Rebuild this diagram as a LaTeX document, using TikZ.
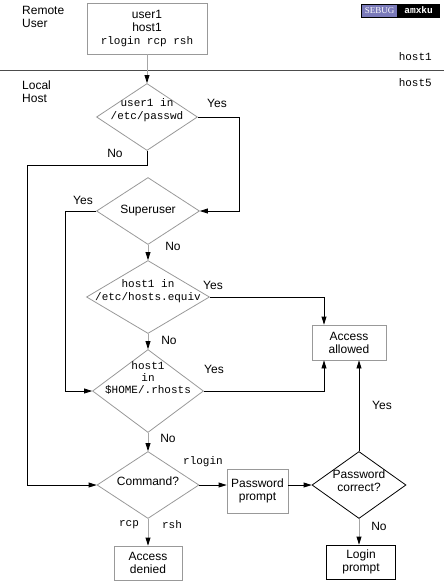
\documentclass[tikz,border=0pt]{standalone}
\usepackage{fontspec}
\setmainfont{Liberation Sans}
\setmonofont{Liberation Mono}
\newfontfamily\badgefont{Liberation Serif}
\usetikzlibrary{shapes.geometric,arrows.meta}
\definecolor{sebugblue}{RGB}{122,122,186}
\newcommand{\dtext}[2][-3pt]{\makebox[0pt]{\smash{\raisebox{#1}{\begin{tabular}{@{}c@{}}#2\end{tabular}}}}}

\begin{document}
\begin{tikzpicture}[x=1pt,y=-1pt,
  every node/.style={inner sep=0pt, font=\fontsize{12}{13}\selectfont},
  box/.style={draw=black!40, line width=0.8pt, align=center},
  decision/.style={diamond, draw=black!40, line width=0.8pt},
  lbl/.style={},
  code/.style={font=\fontsize{11}{13}\ttfamily},
  flow/.style={draw=black, line width=0.8pt, -{Triangle[length=8pt,width=5pt]}},
  gflow/.style={draw=black!35, line width=0.8pt, -{Triangle[length=8pt,width=5pt,color=black]}}]
\useasboundingbox (0,0) rectangle (444,584);
\draw [black!70, line width=0.8pt] (0,70) -- (444,70);
\node [anchor=west, align=left] (remoteuser) at (22,17) {Remote\\User};
\node [anchor=west, align=left] (localhost) at (22,92) {Local\\Host};
\node [code, anchor=east] (hostone) at (432,57) {host1};
\node [code, anchor=east] (hostfive) at (432,83) {host5};
\node [draw=black, line width=0.6pt, fill=sebugblue, text=white, minimum width=36, minimum height=13,
  font=\fontsize{9}{9}\badgefont] (sebug) at (379.5,10.5) {SEBUG};
\node [draw=black, line width=0.6pt, fill=black, text=white, minimum width=41, minimum height=13,
  font=\fontsize{9.5}{9.5}\ttfamily\bfseries, anchor=west] (amxku) at (sebug.east) {amxku};
\node [box, minimum width=120, minimum height=51] (remote) at (147,28.5) {user1\\host1\\\texttt{\fontsize{11}{13}\selectfont rlogin rcp rsh}};
\node [decision, code, minimum width=101, minimum height=67] (passwd) at (147,117)
  {\dtext[4pt]{user1 in\\/etc/passwd}};
\node [decision, minimum width=103, minimum height=67] (super) at (148,211) {\dtext{Superuser}};
\node [decision, code, minimum width=123, minimum height=73] (equiv) at (148,297)
  {\dtext[2.5pt]{host1 in\\/etc/hosts.equiv}};
\node [decision, code, minimum width=111, minimum height=83, font=\fontsize{11}{12}\ttfamily] (rhosts) at (148,391)
  {\dtext[9pt]{host1\\in\\\$HOME/.rhosts}};
\node [decision, minimum width=102, minimum height=67] (command) at (148,485) {\dtext[-1pt]{Command?}};
\node [decision, draw=black, minimum width=94, minimum height=67] (pwcheck) at (359,485)
  {\dtext[-0.5pt]{Password\\correct?}};
\node [box, minimum width=74, minimum height=35] (allowed) at (349,342.5) {Access\\allowed};
\node [box, minimum width=61, minimum height=44] (pwprompt) at (257.5,491) {Password\\prompt};
\node [box, minimum width=68, minimum height=34] (denied) at (148,563) {Access\\denied};
\node [box, draw=black, minimum width=69, minimum height=34] (login) at (361,562) {Login\\prompt};
\draw [gflow] (remote.south) -- (passwd.north);
\draw [flow] (passwd.east) -- ++(41,0) |- (super.east);
\draw [flow] (passwd.south) |- (27,165) |- (command.west);
\draw [flow] (super.west) -- ++(-31,0) |- (rhosts.west);
\draw [gflow] (super.south) -- (equiv.north);
\draw [flow] (equiv.east) -| ([xshift=-25]allowed.north);
\draw [gflow] (equiv.south) -- (rhosts.north);
\draw [flow] (rhosts.east) -| ([xshift=-25]allowed.south);
\draw [gflow] (rhosts.south) -- (command.north);
\draw [flow] (command.east) -- (command.east -| pwprompt.west);
\draw [flow] (pwprompt.east |- pwcheck.west) -- (pwcheck.west);
\draw [flow] (pwcheck.north) -- (pwcheck.north |- allowed.south);
\draw [gflow] (command.south) -- (denied.north);
\draw [gflow] (pwcheck.south) -- (pwcheck.south |- login.north);
\node [lbl] (yesone) at (217,103) {Yes};
\node [lbl] (noone) at (115,153) {No};
\node [lbl] (yestwo) at (83,200) {Yes};
\node [lbl] (notwo) at (173,246) {No};
\node [lbl] (yesthree) at (213,285) {Yes};
\node [lbl] (nothree) at (169,340) {No};
\node [lbl] (yesfour) at (214,369) {Yes};
\node [lbl] (yesfive) at (382,405) {Yes};
\node [lbl] (nofour) at (168,438) {No};
\node [lbl, code] (rlogin) at (203,462) {rlogin};
\node [lbl, code] (rcp) at (129,525) {rcp};
\node [lbl, code] (rsh) at (172,525) {rsh};
\node [lbl] (nofive) at (379,526) {No};
\end{tikzpicture}
\end{document}
